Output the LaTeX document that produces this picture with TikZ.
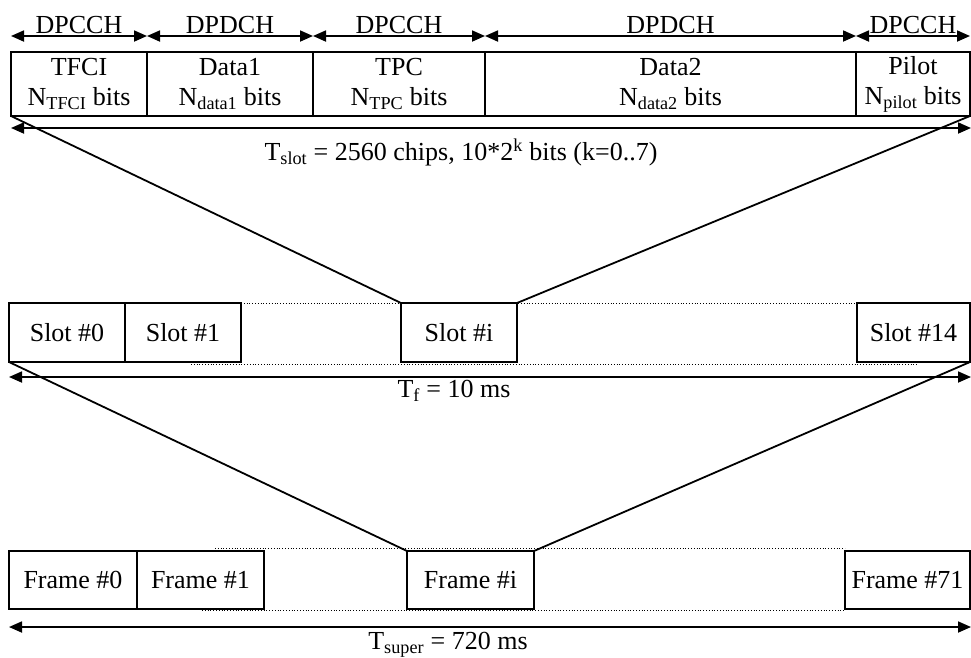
\documentclass[tikz,border=0pt]{standalone}
\usepackage{fontspec}
\setmainfont{Liberation Serif}
\usetikzlibrary{arrows.meta}

\begin{document}
\begin{tikzpicture}[x=1pt,y=-1pt,line width=1.8pt,
    cell/.style={draw,inner sep=0pt,outer sep=0pt,align=center,
      font=\fontsize{26}{30}\selectfont},
    chanbox/.style={cell,minimum height=64},
    slotbox/.style={cell,minimum height=59},
    framebox/.style={cell,minimum height=58},
    dimarrow/.style={{Triangle[length=13pt,width=11pt]}-{Triangle[length=13pt,width=11pt]}},
    gap/.style={line width=0.8pt,dotted},
    lab/.style={font=\fontsize{26}{30}\selectfont,inner sep=0pt}]
  \useasboundingbox (0,0) rectangle (971,657);
  % slot structure, one cell per field
  \foreach \nm/\xa/\xb/\lab/\ch in {tfci/11/147/{TFCI\\N\textsubscript{TFCI} bits}/DPCCH,
                                   dataA/147/313/{Data1\\N\textsubscript{data1} bits}/DPDCH,
                                   tpc/313/485/{TPC\\N\textsubscript{TPC} bits}/DPCCH,
                                   dataB/485/856/{Data2\\N\textsubscript{data2} bits}/DPDCH,
                                   pilot/856/970/{Pilot\\N\textsubscript{pilot} bits}/DPCCH}{
    \node[chanbox,minimum width=\xb-\xa] (\nm) at ({(\xa+\xb)/2},84) {\lab};
    \draw[dimarrow] ([yshift=16pt]\nm.north west) -- ([yshift=16pt]\nm.north east)
      node[lab,midway,above=1pt] {\ch};
  }
  \coordinate (slotL) at (11,128);
  \coordinate (slotR) at (971,128);
  \draw[dimarrow] (slotL) -- (slotR);
  \node[lab] (tslot) at (461,152) {T\textsubscript{slot} = 2560 chips, 10*2\textsuperscript{k} bits (k=0..7)};

  % radio frame
  \foreach \nm/\xa/\xb/\lab in {slot0/9/125/Slot \#0, slot1/125/241/Slot \#1,
                               sloti/401/517/Slot \#i, slotN/857/970/Slot \#14}{
    \node[slotbox,minimum width=\xb-\xa] (\nm) at ({(\xa+\xb)/2},332.5) {\lab};
  }
  \draw[gap] (slot1.north east) -- (slotN.north west);
  \draw[gap] ([xshift=-50pt,yshift=-2pt]slot1.south east) -- ([xshift=60pt,yshift=-2pt]slotN.south west);
  \draw (tfci.south west) -- (sloti.north west);
  \draw (pilot.south east) -- (sloti.north east);
  \coordinate (frmL) at (9,377);
  \coordinate (frmR) at (971,377);
  \draw[dimarrow] (frmL) -- (frmR);
  \node[lab] (tf) at (454,391) {T\textsubscript{f} = 10 ms};

  % super frame
  \foreach \nm/\xa/\xb/\lab in {frame0/9/137/Frame \#0, frame1/137/264/Frame \#1,
                               framei/407/534/Frame \#i, frameN/845/970/Frame \#71}{
    \node[framebox,minimum width=\xb-\xa] (\nm) at ({(\xa+\xb)/2},580) {\lab};
  }
  \draw[gap] ([xshift=-49pt,yshift=3pt]frame1.north east) -- ([yshift=3pt]frameN.north west);
  \draw[gap] ([xshift=-62pt,yshift=-1pt]frame1.south east) -- ([yshift=-1pt]frameN.south west);
  \draw (slot0.south west) -- (framei.north west);
  \draw (slotN.south east) -- (framei.north east);
  \coordinate (supL) at (9,627);
  \coordinate (supR) at (971,627);
  \draw[dimarrow] (supL) -- (supR);
  \node[lab] (tsup) at (448,645) {T\textsubscript{super} = 720 ms};
\end{tikzpicture}
\end{document}
